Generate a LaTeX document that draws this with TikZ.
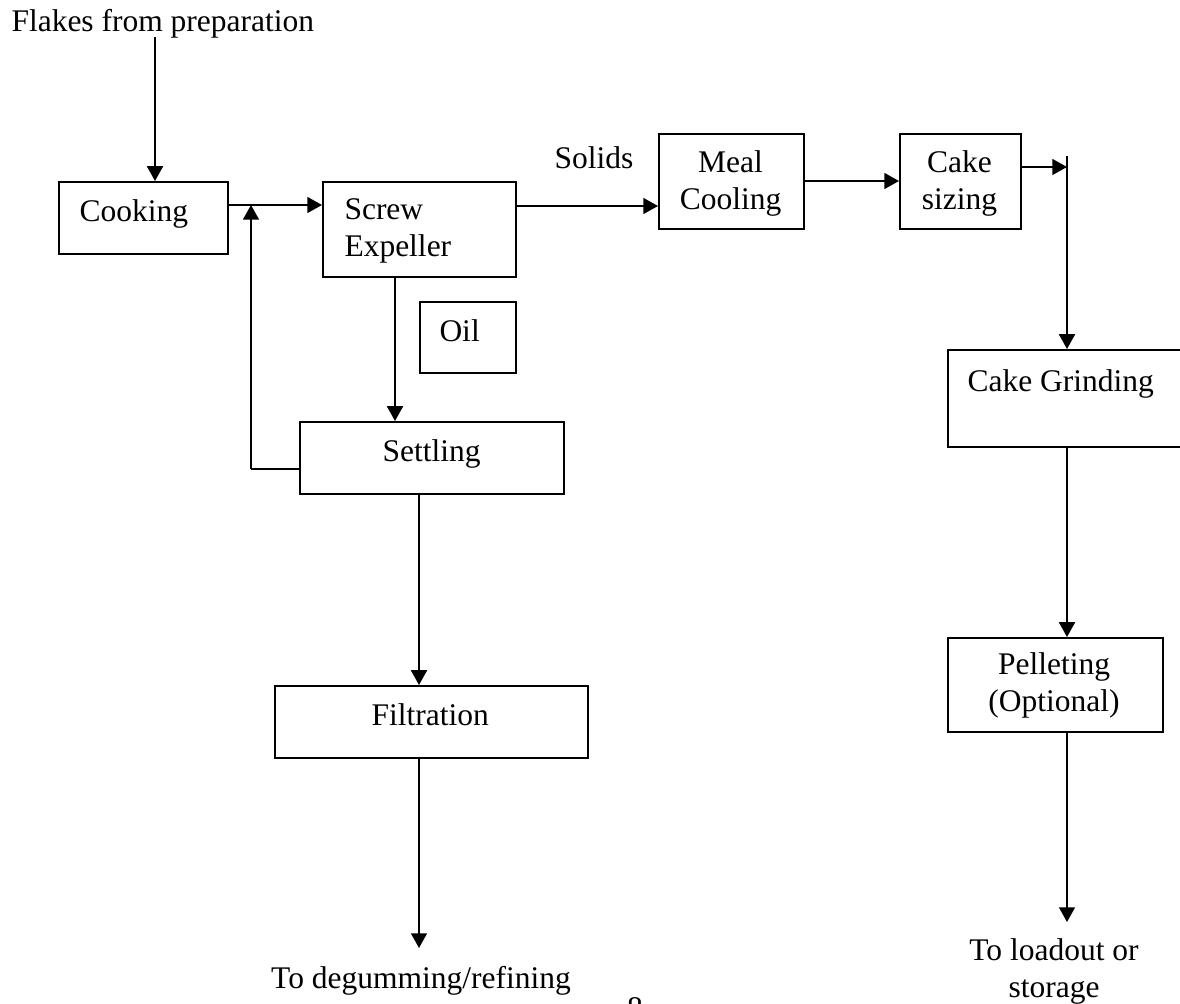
\documentclass[tikz,border=0pt]{standalone}
\usepackage{fontspec}
\setmainfont{Liberation Serif}
\usetikzlibrary{arrows.meta}

\begin{document}
\begin{tikzpicture}[x=0.4pt,y=-0.4pt,
  every node/.style={font=\fontsize{12.6}{14.8}\selectfont},
  box/.style={draw, line width=0.7pt, rectangle, inner sep=0pt, anchor=north west},
  lbl/.style={inner sep=0pt, anchor=base west},
  clbl/.style={inner sep=0pt, anchor=base, align=center},
  flow/.style={line width=0.7pt, -{Triangle[length=5.9pt,width=6.4pt]}},
  wire/.style={line width=0.7pt}]

\useasboundingbox (0,0) rectangle (1180,1004);
\clip (0,0) rectangle (1180,1004);

% process boxes (placed by their top-left corners)
\node[box, minimum width=169*0.4pt, minimum height=72*0.4pt]  (cook)   at (58,181)  {};
\node[box, minimum width=193*0.4pt, minimum height=95*0.4pt]  (screw)  at (322,181) {};
\node[box, minimum width=96*0.4pt,  minimum height=71*0.4pt]  (oil)    at (419,301) {};
\node[box, minimum width=264*0.4pt, minimum height=72*0.4pt]  (settle) at (299,421) {};
\node[box, minimum width=313*0.4pt, minimum height=72*0.4pt]  (filt)   at (274,685) {};
\node[box, minimum width=145*0.4pt, minimum height=95*0.4pt]  (meal)   at (658,133) {};
\node[box, minimum width=121*0.4pt, minimum height=95*0.4pt]  (size)   at (899,133) {};
\node[box, minimum width=240*0.4pt, minimum height=97*0.4pt]  (grind)  at (947,349) {};
\node[box, minimum width=215*0.4pt, minimum height=94*0.4pt]  (pellet) at (947,637) {};

% texts (two-line labels are placed by the baseline of their last line)
\node[lbl]  (tflakes) at (11,32)    {Flakes from preparation};
\node[lbl]  (tcook)   at (79,222)   {Cooking};
\node[lbl]  (tscrew)  at (344,220)  {Screw};
\node[lbl]  (texp)    at (344,257)  {Expeller};
\node[lbl]  (toil)    at (439,342)  {Oil};
\node[lbl]  (tsettle) at (382,462)  {Settling};
\node[lbl]  (tfilt)   at (371,726)  {Filtration};
\node[lbl]  (tsolids) at (554,169)  {Solids};
\node[clbl] (tmeal)   at (730.5,210) {Meal\\Cooling};
\node[clbl] (tsize)   at (959.5,210) {Cake\\sizing};
\node[lbl]  (tgrind)  at (967,392)  {Cake Grinding};
\node[clbl] (tpellet) at (1054,712) {Pelleting\\(Optional)};
\node[clbl] (tdegum)  at (421,988)  {To degumming/refining};
\node[clbl] (tload)   at (1054,997) {To loadout or\\storage};
\node[clbl] (tpage)   at (635,1018) {8};

% junction points
\coordinate (infeed)  at (155,37);
\coordinate (retjoin) at (251,205);
\coordinate (retcorner) at (251,469);
\coordinate (coltop)  at (1067,156);
\coordinate (coljoin) at (1067,167);
\coordinate (oilend)  at (419,948);
\coordinate (mealend) at (1067,922);

% connectors
\draw[flow] (infeed) -- (cook.north -| infeed);
\draw[flow] (cook.east |- retjoin) -- (screw.west |- retjoin);
\draw[wire] (settle.west |- retcorner) -- (retcorner);
\draw[flow] (retcorner) -- (retjoin);
\draw[flow] (screw.south -| 395,0) -- (settle.north -| 395,0);
\draw[flow] (settle.south -| oilend) -- (filt.north -| oilend);
\draw[flow] (filt.south -| oilend) -- (oilend);
\draw[flow] (screw.east |- 0,206) -- (meal.west |- 0,206);
\draw[flow] (meal.east |- 0,181) -- (size.west |- 0,181);
\draw[flow] (size.east |- coljoin) -- (coljoin);
\draw[flow] (coltop) -- (grind.north -| coltop);
\draw[flow] (grind.south -| coltop) -- (pellet.north -| coltop);
\draw[flow] (pellet.south -| coltop) -- (mealend);
\end{tikzpicture}
\end{document}
